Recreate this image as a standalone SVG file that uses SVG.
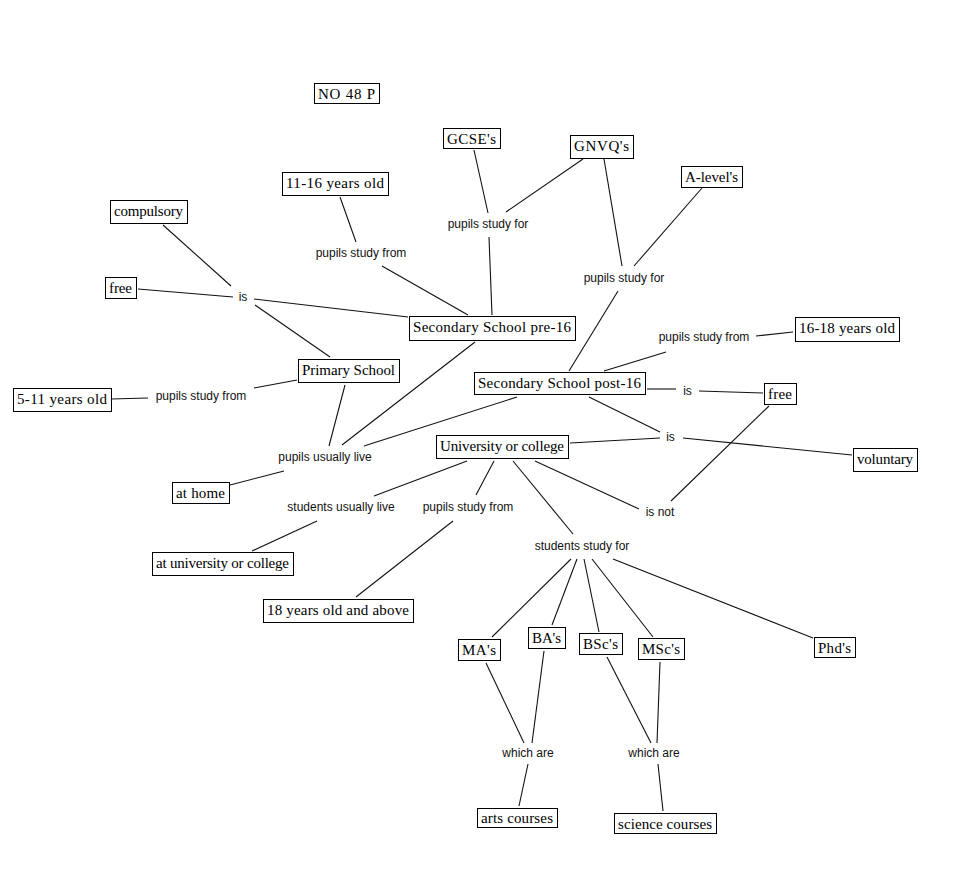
<svg xmlns="http://www.w3.org/2000/svg" width="960" height="874" viewBox="0 0 960 874">
<style>
.bg{fill:#fff}
.box rect{fill:#fff;stroke:#000;stroke-width:1}
.box text{font-family:"Liberation Serif","Times New Roman",serif;font-size:15px;fill:#000;text-anchor:middle}
.lbl{font-family:"Liberation Sans",Arial,sans-serif;font-size:12px;fill:#111;text-anchor:middle}
#connectors line{stroke:#111;stroke-width:1.1}
</style>
<rect class="bg" x="0" y="0" width="960" height="874"/>
<g id="connectors">
<line x1="163" y1="225" x2="231" y2="286"/>
<line x1="138" y1="289" x2="233" y2="297"/>
<line x1="254" y1="299" x2="408" y2="317"/>
<line x1="255" y1="305" x2="330" y2="357"/>
<line x1="340" y1="197" x2="356" y2="242"/>
<line x1="382" y1="266" x2="468" y2="315"/>
<line x1="474" y1="150" x2="488" y2="213"/>
<line x1="583" y1="159" x2="506" y2="212"/>
<line x1="489" y1="237" x2="492" y2="315"/>
<line x1="604" y1="159" x2="622" y2="266"/>
<line x1="702" y1="188" x2="634" y2="266"/>
<line x1="618" y1="291" x2="569" y2="371"/>
<line x1="756" y1="336" x2="793" y2="332"/>
<line x1="666" y1="352" x2="604" y2="371"/>
<line x1="111" y1="399" x2="148" y2="398"/>
<line x1="254" y1="388" x2="297" y2="380"/>
<line x1="647" y1="389" x2="676" y2="389"/>
<line x1="699" y1="391" x2="763" y2="393"/>
<line x1="345" y1="385" x2="329" y2="446"/>
<line x1="475" y1="342" x2="342" y2="445"/>
<line x1="517" y1="397" x2="364" y2="446"/>
<line x1="284" y1="471" x2="230" y2="485"/>
<line x1="589" y1="397" x2="660" y2="432"/>
<line x1="570" y1="443" x2="660" y2="438"/>
<line x1="683" y1="438" x2="852" y2="455"/>
<line x1="769" y1="406" x2="671" y2="501"/>
<line x1="535" y1="461" x2="639" y2="509"/>
<line x1="467" y1="461" x2="374" y2="496"/>
<line x1="317" y1="521" x2="252" y2="551"/>
<line x1="494" y1="461" x2="476" y2="495"/>
<line x1="453" y1="521" x2="356" y2="597"/>
<line x1="513" y1="461" x2="573" y2="534"/>
<line x1="571" y1="559" x2="492" y2="637"/>
<line x1="577" y1="559" x2="552" y2="625"/>
<line x1="584" y1="559" x2="599" y2="632"/>
<line x1="592" y1="559" x2="653" y2="637"/>
<line x1="613" y1="559" x2="813" y2="638"/>
<line x1="486" y1="663" x2="524" y2="743"/>
<line x1="544" y1="651" x2="532" y2="743"/>
<line x1="528" y1="764" x2="519" y2="806"/>
<line x1="607" y1="657" x2="651" y2="743"/>
<line x1="660" y1="662" x2="657" y2="743"/>
<line x1="658" y1="764" x2="663" y2="811"/>
</g>
<g id="labels">
<text id="l-is1" class="lbl" x="243" y="301">is</text>
<text id="l-psf-1116" class="lbl" x="361" y="257">pupils study from</text>
<text id="l-psfor1" class="lbl" x="488" y="228">pupils study for</text>
<text id="l-psfor2" class="lbl" x="624" y="282">pupils study for</text>
<text id="l-psf-1618" class="lbl" x="704" y="341">pupils study from</text>
<text id="l-psf-511" class="lbl" x="201" y="400">pupils study from</text>
<text id="l-is2" class="lbl" x="687.5" y="394.5">is</text>
<text id="l-pul" class="lbl" x="325" y="461">pupils usually live</text>
<text id="l-is3" class="lbl" x="670.5" y="441">is</text>
<text id="l-sul" class="lbl" x="341" y="511">students usually live</text>
<text id="l-psf-18" class="lbl" x="468" y="511">pupils study from</text>
<text id="l-isnot" class="lbl" x="660" y="516">is not</text>
<text id="l-ssf" class="lbl" x="582" y="550">students study for</text>
<text id="l-wa1" class="lbl" x="528" y="757">which are</text>
<text id="l-wa2" class="lbl" x="654" y="757">which are</text>
</g>
<g id="n-no48p" class="box"><rect x="314.5" y="83.5" width="65" height="20"/><text x="346.5" y="98.5" textLength="57">NO 48 P</text></g>
<g id="n-gcse" class="box"><rect x="443.5" y="128.5" width="57" height="20"/><text x="471.5" y="143.5" textLength="49">GCSE's</text></g>
<g id="n-gnvq" class="box"><rect x="570.5" y="135.5" width="63" height="23"/><text x="601.5" y="150.5" textLength="55">GNVQ's</text></g>
<g id="n-alevel" class="box"><rect x="681.5" y="166.5" width="61" height="21"/><text x="711.5" y="181.5" textLength="53">A-level's</text></g>
<g id="n-1116" class="box"><rect x="282.5" y="172.5" width="106" height="23"/><text x="335" y="187.5" textLength="98">11-16 years old</text></g>
<g id="n-compulsory" class="box"><rect x="110.5" y="200.5" width="77" height="23"/><text x="148.5" y="215.5" textLength="69">compulsory</text></g>
<g id="n-free1" class="box"><rect x="105.5" y="277.5" width="31" height="21"/><text x="120.5" y="292.5" textLength="23">free</text></g>
<g id="n-pre16" class="box"><rect x="409.5" y="316.5" width="166" height="24"/><text x="492" y="331.5" textLength="158">Secondary School pre-16</text></g>
<g id="n-1618" class="box"><rect x="795.5" y="317.5" width="104" height="24"/><text x="847" y="332.5" textLength="96">16-18 years old</text></g>
<g id="n-primary" class="box"><rect x="298.5" y="359.5" width="101" height="23"/><text x="348.5" y="374.5" textLength="93">Primary School</text></g>
<g id="n-post16" class="box"><rect x="474.5" y="372.5" width="171" height="22"/><text x="559.5" y="387.5" textLength="163">Secondary School post-16</text></g>
<g id="n-free2" class="box"><rect x="764.5" y="383.5" width="32" height="21"/><text x="780" y="398.5" textLength="24">free</text></g>
<g id="n-511" class="box"><rect x="13.5" y="388.5" width="98" height="23"/><text x="62" y="403.5" textLength="90">5-11 years old</text></g>
<g id="n-univ" class="box"><rect x="436.5" y="435.5" width="132" height="23"/><text x="502" y="450.5" textLength="124">University or college</text></g>
<g id="n-voluntary" class="box"><rect x="853.5" y="448.5" width="64" height="23"/><text x="885" y="463.5" textLength="56">voluntary</text></g>
<g id="n-athome" class="box"><rect x="172.5" y="482.5" width="57" height="21"/><text x="200.5" y="497.5" textLength="49">at home</text></g>
<g id="n-atuniv" class="box"><rect x="152.5" y="552.5" width="141" height="23"/><text x="222.5" y="567.5" textLength="133">at university or college</text></g>
<g id="n-18plus" class="box"><rect x="263.5" y="599.5" width="150" height="23"/><text x="338" y="614.5" textLength="142">18 years old and above</text></g>
<g id="n-ma" class="box"><rect x="458.5" y="639.5" width="42" height="21"/><text x="479" y="654.5" textLength="34">MA's</text></g>
<g id="n-ba" class="box"><rect x="528.5" y="627.5" width="37" height="21"/><text x="546.5" y="642.5" textLength="29">BA's</text></g>
<g id="n-bsc" class="box"><rect x="579.5" y="633.5" width="43" height="21"/><text x="600.5" y="648.5" textLength="35">BSc's</text></g>
<g id="n-msc" class="box"><rect x="638.5" y="638.5" width="46" height="21"/><text x="661" y="653.5" textLength="38">MSc's</text></g>
<g id="n-phd" class="box"><rect x="814.5" y="637.5" width="41" height="20"/><text x="834.5" y="652.5" textLength="33">Phd's</text></g>
<g id="n-arts" class="box"><rect x="477.5" y="808.5" width="80" height="19"/><text x="517" y="823" textLength="72">arts courses</text></g>
<g id="n-science" class="box"><rect x="614.5" y="813.5" width="102" height="20"/><text x="665" y="828.5" textLength="94">science courses</text></g>
</svg>
